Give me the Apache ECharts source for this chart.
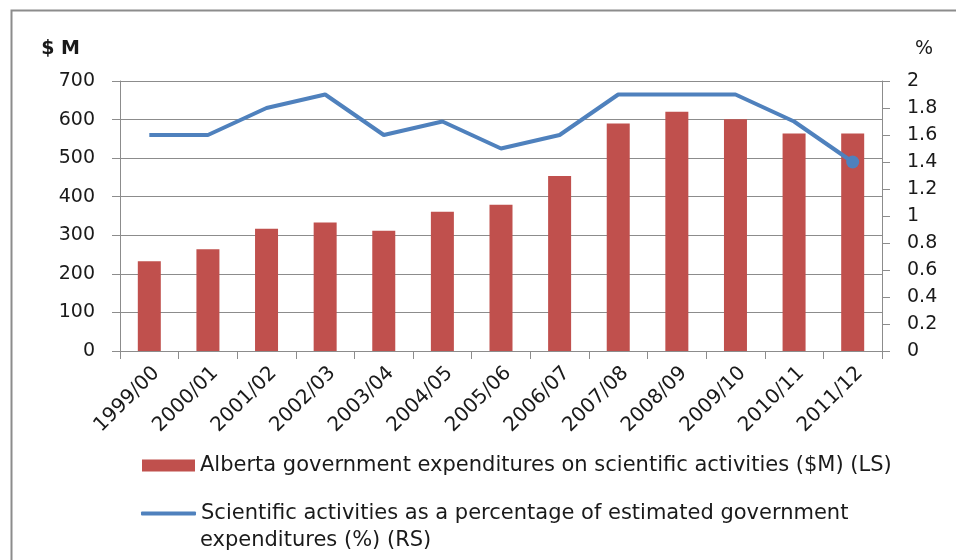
<!DOCTYPE html>
<html>
<head>
<meta charset="utf-8">
<script src="https://cdn.jsdelivr.net/npm/echarts@6/dist/echarts.min.js"></script>
<style>html,body{margin:0;padding:0;background:#fff}#c{width:956px;height:560px}</style>
</head>
<body>
<div id="c"></div>
<script>
var categories = ['1999/00','2000/01','2001/02','2002/03','2003/04','2004/05','2005/06','2006/07','2007/08','2008/09','2009/10','2010/11','2011/12'];
var expenditures = [233, 264, 317, 333, 312, 361, 379, 454, 590, 620, 601, 564, 564];
var percentages = [1.6, 1.6, 1.8, 1.9, 1.6, 1.7, 1.5, 1.6, 1.9, 1.9, 1.9, 1.7, 1.4];
var barName = 'Alberta government expenditures on scientific activities ($M) (LS)';
var lineName = 'Scientific activities as a percentage of estimated government';
var lineNameCont = 'expenditures (%) (RS)';
var leftAxisName = '$ M';
var rightAxisName = '%';

var FONT = 'DejaVu Sans';
var TXT = '#1a1a1a';
var LEG = 21;
var chart = echarts.init(document.getElementById('c'), null, {renderer: 'canvas'});

var lineData = percentages.map(function (v, i) {
  if (i === percentages.length - 1) return {value: v, symbol: 'circle', symbolSize: 13};
  return {value: v, symbol: 'none', symbolSize: 0};
});

chart.setOption({
  animation: false,
  backgroundColor: '#fff',
  graphic: [
    {type: 'rect', left: 9, top: 8, shape: {width: 1000, height: 600}, style: {fill: 'none', stroke: '#8c8c8c', lineWidth: 2}, silent: true, z: -10},
    {type: 'text', left: 200, top: 530, style: {text: lineNameCont, font: LEG + 'px "' + FONT + '"', fill: TXT}}
  ],
  grid: {left: 120, right: 74, top: 81, bottom: 209, containLabel: false},
  legend: [
    {data: [{name: barName, icon: 'rect'}], left: 142, top: 455, padding: 0, itemWidth: 53, itemHeight: 12, itemGap: 5,
     textStyle: {fontFamily: FONT, fontSize: LEG, color: TXT}, selectedMode: false},
    {data: [{name: lineName, icon: 'roundRect'}], left: 141, top: 503, padding: 0, itemWidth: 55, itemHeight: 4, itemGap: 5,
     textStyle: {fontFamily: FONT, fontSize: LEG, color: TXT}, selectedMode: false}
  ],
  xAxis: {
    type: 'category',
    data: categories,
    boundaryGap: true,
    axisLine: {lineStyle: {color: '#8c8c8c', width: 1}},
    axisTick: {show: true, interval: 0, length: 8, lineStyle: {color: '#8c8c8c'}},
    axisLabel: {interval: 0, rotate: 45, margin: 12, verticalAlign: 'top', fontFamily: FONT, fontSize: 20, color: TXT}
  },
  yAxis: [
    {
      type: 'value', min: 0, max: 700, interval: 100, position: 'left',
      name: leftAxisName, nameLocation: 'end', nameGap: 22,
      nameTextStyle: {fontFamily: FONT, fontSize: 19, fontWeight: 'bold', color: TXT, align: 'right', padding: [0, 40, 0, 0]},
      axisLine: {show: true, lineStyle: {color: '#8c8c8c'}},
      axisTick: {show: true, length: 8, lineStyle: {color: '#8c8c8c'}},
      axisLabel: {margin: 25, fontFamily: FONT, fontSize: 19, color: TXT},
      splitLine: {show: true, lineStyle: {color: '#8c8c8c', width: 1}}
    },
    {
      type: 'value', min: 0, max: 2, interval: 0.2, position: 'right',
      name: rightAxisName, nameLocation: 'end', nameGap: 22,
      nameTextStyle: {fontFamily: FONT, fontSize: 19, color: TXT, align: 'left', padding: [0, 0, 0, 33]},
      axisLine: {show: true, lineStyle: {color: '#8c8c8c'}},
      axisTick: {show: true, length: 8, lineStyle: {color: '#8c8c8c'}},
      axisLabel: {margin: 25, fontFamily: FONT, fontSize: 19, color: TXT},
      splitLine: {show: false}
    }
  ],
  series: [
    {
      name: barName, type: 'bar', yAxisIndex: 0, data: expenditures,
      barWidth: 23, itemStyle: {color: '#C0504D'}
    },
    {
      name: lineName, type: 'line', yAxisIndex: 1, data: lineData,
      lineStyle: {color: '#4F81BD', width: 4}, itemStyle: {color: '#4F81BD'},
      z: 5
    }
  ]
});
</script>
</body>
</html>
